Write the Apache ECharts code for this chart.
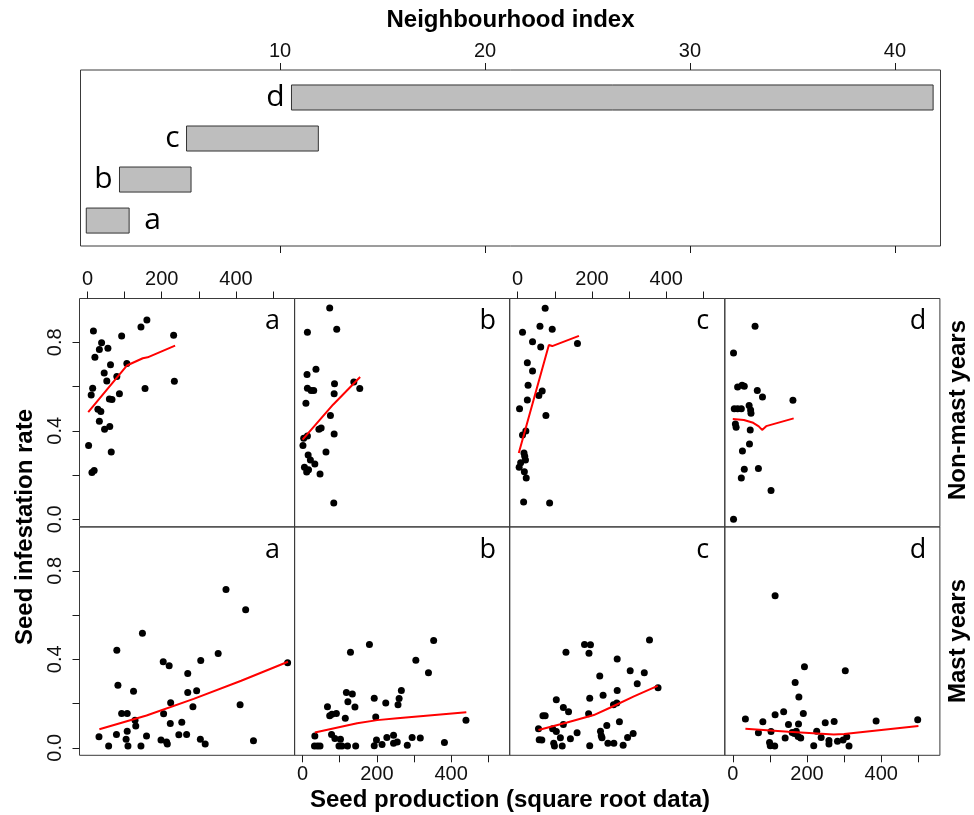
<!DOCTYPE html>
<html><head><meta charset="utf-8">
<script src="https://cdn.jsdelivr.net/npm/echarts@6/dist/echarts.min.js"></script>
<style>html,body{margin:0;padding:0;background:#fff}#c{width:974px;height:815px}</style>
</head><body><div id="c"></div>
<script>
// ---------- data ----------
const barNames = ['a', 'b', 'c', 'd'];
const barStart = [0.55, 2.17, 5.44, 10.56];
const barEnd = [2.64, 5.66, 11.87, 41.86];
const barPos = [1, 2, 3, 4];
const nbTicks = [10, 20, 30, 40];

const seedTicks = [0, 100, 200, 300, 400, 500];
const seedLabels = [0, 200, 400];
const rateTicks = [0, 0.2, 0.4, 0.6, 0.8];
const rateLabels = [0, 0.4, 0.8];
const panelLetters = ['a', 'b', 'c', 'd'];
const rowLabels = ['Non-mast years', 'Mast years'];

const nonMastA = [[16,0.851],[38,0.798],[32,0.767],[55,0.773],[20,0.732],[92,0.829],[144,0.869],[160,0.901],[232,0.832],[62,0.698],[106,0.704],[45,0.661],[79,0.645],[52,0.625],[14,0.592],[10,0.562],[155,0.591],[234,0.624],[86,0.568],[59,0.544],[66,0.541],[28,0.497],[36,0.487],[32,0.443],[46,0.407],[60,0.419],[3,0.333],[64,0.304],[12,0.212],[18,0.220]];
const fitNonMastA = [[2,0.484],[106,0.695],[149,0.728],[162,0.732],[236,0.785]];

const nonMastB = [[73,0.955],[13,0.845],[92,0.859],[36,0.678],[12,0.655],[13,0.592],[23,0.582],[30,0.582],[86,0.613],[85,0.568],[138,0.621],[154,0.591],[9,0.524],[75,0.469],[44,0.407],[50,0.413],[13,0.377],[85,0.386],[3,0.366],[1,0.333],[15,0.291],[21,0.268],[33,0.250],[5,0.235],[16,0.224],[11,0.214],[63,0.304],[47,0.205],[84,0.074]];
const fitNonMastB = [[0,0.360],[82,0.518],[155,0.643]];

const nonMastC = [[74,0.954],[60,0.872],[93,0.859],[13,0.845],[40,0.803],[62,0.779],[161,0.795],[26,0.708],[40,0.670],[28,0.606],[66,0.580],[57,0.559],[26,0.539],[5,0.500],[76,0.469],[22,0.399],[13,0.381],[17,0.300],[19,0.285],[21,0.268],[8,0.256],[4,0.235],[18,0.215],[23,0.187],[16,0.078],[86,0.074]];
const fitNonMastC = [[3,0.300],[84,0.788],[93,0.783],[165,0.829]];

const nonMastD = [[60,0.872],[2,0.752],[13,0.598],[25,0.606],[31,0.601],[66,0.582],[80,0.553],[162,0.538],[4,0.500],[13,0.500],[23,0.500],[44,0.514],[48,0.494],[49,0.479],[7,0.431],[9,0.416],[47,0.404],[45,0.340],[26,0.309],[31,0.226],[69,0.229],[23,0.187],[103,0.130],[2,0.000]];
const fitNonMastD = [[0,0.453],[30,0.449],[55,0.436],[70,0.420],[79,0.404],[90,0.421],[164,0.456]];

const mastA = [[31,0.050],[57,0.008],[78,0.060],[79,0.441],[82,0.283],[92,0.155],[107,0.155],[104,0.038],[107,0.075],[109,0.008],[124,0.256],[128,0.125],[130,0.099],[144,0.008],[148,0.518],[159,0.053],[198,0.035],[204,0.389],[213,0.026],[215,0.017],[220,0.371],[224,0.203],[205,0.154],[223,0.110],[246,0.059],[254,0.115],[267,0.060],[270,0.336],[270,0.250],[284,0.185],[294,0.258],[305,0.395],[304,0.038],[317,0.017],[352,0.426],[373,0.716],[411,0.194],[426,0.624],[447,0.032],[539,0.384]];
const fitMastA = [[32,0.084],[159,0.146],[286,0.221],[414,0.303],[540,0.389]];

const mastB = [[33,0.053],[32,0.008],[40,0.008],[47,0.008],[67,0.185],[73,0.145],[79,0.152],[91,0.155],[78,0.060],[87,0.042],[102,0.038],[98,0.008],[106,0.008],[121,0.008],[115,0.134],[118,0.250],[134,0.243],[122,0.208],[141,0.184],[129,0.432],[143,0.008],[180,0.467],[193,0.224],[197,0.139],[193,0.009],[199,0.035],[214,0.015],[224,0.202],[227,0.047],[245,0.057],[245,0.020],[255,0.026],[257,0.194],[260,0.223],[266,0.259],[282,0.011],[295,0.047],[305,0.396],[317,0.044],[339,0.339],[353,0.485],[382,0.024],[440,0.124]];
const fitMastB = [[33,0.069],[147,0.111],[201,0.125],[255,0.133],[441,0.161]];

const mastC = [[56,0.086],[58,0.036],[65,0.035],[68,0.145],[74,0.145],[97,0.020],[99,0.008],[94,0.086],[104,0.074],[104,0.217],[115,0.045],[120,0.008],[123,0.182],[123,0.105],[130,0.432],[137,0.163],[142,0.041],[160,0.068],[180,0.467],[196,0.466],[192,0.427],[191,0.154],[194,0.224],[194,0.009],[221,0.325],[223,0.075],[225,0.054],[227,0.045],[230,0.237],[240,0.101],[243,0.020],[259,0.020],[258,0.194],[267,0.202],[268,0.259],[268,0.401],[274,0.118],[284,0.011],[296,0.047],[311,0.065],[303,0.348],[322,0.289],[341,0.339],[355,0.487],[378,0.271]];
const fitMastC = [[56,0.080],[133,0.114],[205,0.148],[250,0.182],[313,0.232],[377,0.280]];

const mastD = [[34,0.130],[69,0.068],[81,0.118],[99,0.024],[101,0.009],[113,0.008],[103,0.074],[114,0.149],[114,0.687],[137,0.163],[141,0.044],[150,0.105],[160,0.069],[166,0.065],[171,0.075],[168,0.295],[177,0.108],[178,0.229],[176,0.051],[183,0.044],[190,0.155],[193,0.366],[218,0.009],[226,0.075],[238,0.047],[249,0.113],[259,0.033],[259,0.017],[273,0.119],[282,0.029],[297,0.035],[303,0.348],[307,0.050],[313,0.008],[386,0.121],[498,0.127]];
const fitMastD = [[34,0.086],[150,0.072],[272,0.060],[300,0.062],[500,0.098]];

const panelPoints = [nonMastA, nonMastB, nonMastC, nonMastD, mastA, mastB, mastC, mastD];
const panelFits = [fitNonMastA, fitNonMastB, fitNonMastC, fitNonMastD, fitMastA, fitMastB, fitMastC, fitMastD];

// ---------- layout ----------
const TICK = '#1a1a1a', BORDER = '#3a3a3a';
const FONT = 'Liberation Sans, Arial, sans-serif';
const LETTER_FONT = 'Open Sans, Noto Sans, sans-serif';
const topBox = {left: 80.5, top: 70, width: 860, height: 176};
const pLeft = [79.5, 294.6, 509.7, 724.8], pW = 215.1;
const pTop = [298.5, 527], pH = 228.3;

const chart = echarts.init(document.getElementById('c'), null, {renderer: 'canvas'});

const grids = [Object.assign({show: true, borderColor: BORDER, borderWidth: 1}, topBox)];
const xAxes = [
  {gridIndex: 0, type: 'value', position: 'top', min: 0.268, max: 42.22,
   axisLine: {show: false, onZero: false}, splitLine: {show: false},
   axisTick: {show: true, length: 7, lineStyle: {color: TICK}, customValues: nbTicks},
   axisLabel: {show: true, customValues: nbTicks, fontSize: 20, fontFamily: FONT, color: '#111', margin: 9}},
  {gridIndex: 0, type: 'value', position: 'bottom', min: 0.268, max: 42.22,
   axisLine: {show: false, onZero: false}, splitLine: {show: false},
   axisTick: {show: true, length: 7, lineStyle: {color: TICK}, customValues: nbTicks},
   axisLabel: {show: false}}
];
const yAxes = [{gridIndex: 0, type: 'value', min: 0.38, max: 4.67, show: false}];
const series = [{
  type: 'custom', xAxisIndex: 0, yAxisIndex: 0,
  data: barNames.map((n, i) => [barStart[i], barEnd[i], barPos[i]]),
  renderItem: function (params, api) {
    const s = api.value(0), e = api.value(1), p = api.value(2);
    const p0 = api.coord([s, p]), p1 = api.coord([e, p]);
    const h = api.size([0, 0.61])[1];
    const i = params.dataIndex;
    const left = i !== 0;
    return {type: 'group', children: [
      {type: 'rect', shape: {x: p0[0], y: p0[1] - h / 2, width: p1[0] - p0[0], height: h},
       style: {fill: '#bebebe', stroke: '#333', lineWidth: 1}},
      {type: 'text', style: {text: barNames[i], x: left ? p0[0] - 7 : p1[0] + 15, y: p0[1],
        align: left ? 'right' : 'left', verticalAlign: 'middle',
        font: '30px ' + LETTER_FONT, fill: '#000'}}
    ]};
  }
}];

const graphics = [];
for (let k = 0; k < 8; k++) {
  const r = Math.floor(k / 4), c = k % 4;
  grids.push({left: pLeft[c], top: pTop[r], width: pW, height: pH, show: true,
              borderColor: BORDER, borderWidth: 1});
  const showX = (r === 0 && (c === 0 || c === 2)) || (r === 1 && (c === 1 || c === 3));
  xAxes.push({gridIndex: k + 1, type: 'value', min: -21.5, max: 557.8,
    position: r === 0 ? 'top' : 'bottom', show: showX,
    axisLine: {show: false, onZero: false}, splitLine: {show: false},
    axisTick: {show: true, length: 7, lineStyle: {color: TICK}, customValues: seedTicks},
    axisLabel: {show: true, customValues: seedLabels, fontSize: 20, fontFamily: FONT, color: '#111', margin: 9}});
  yAxes.push({gridIndex: k + 1, type: 'value', min: -0.034, max: 0.998, show: c === 0,
    axisLine: {show: false, onZero: false}, splitLine: {show: false},
    axisTick: {show: true, length: 7, lineStyle: {color: TICK}, customValues: rateTicks},
    axisLabel: {show: true, customValues: rateLabels, rotate: 90, fontSize: 20, fontFamily: FONT,
      color: '#111', margin: 14, formatter: v => Number(v).toFixed(1)}});
  series.push({type: 'scatter', xAxisIndex: k + 2, yAxisIndex: k + 1, data: panelPoints[k],
    symbolSize: 7, itemStyle: {color: '#000', opacity: 1}, z: 3});
  series.push({type: 'line', xAxisIndex: k + 2, yAxisIndex: k + 1, data: panelFits[k],
    showSymbol: false, lineStyle: {color: '#ff0000', width: 2}, z: 4});
  graphics.push({type: 'text', x: pLeft[c] + pW - 22, y: pTop[r] + 23,
    style: {text: panelLetters[c], align: 'center', verticalAlign: 'middle',
      font: '27px ' + LETTER_FONT, fill: '#000'}});
}

graphics.push({type: 'text', x: 510.5, y: 20,
  style: {text: 'Neighbourhood index', align: 'center', verticalAlign: 'middle', font: 'bold 24px ' + FONT, fill: '#000'}});
graphics.push({type: 'text', x: 510, y: 800,
  style: {text: 'Seed production (square root data)', align: 'center', verticalAlign: 'middle', font: 'bold 24px ' + FONT, fill: '#000'}});
graphics.push({type: 'text', x: 25, y: 527, rotation: Math.PI / 2,
  style: {text: 'Seed infestation rate', align: 'center', verticalAlign: 'middle', font: 'bold 24px ' + FONT, fill: '#000'}});
graphics.push({type: 'text', x: 958, y: 410, rotation: Math.PI / 2,
  style: {text: rowLabels[0], align: 'center', verticalAlign: 'middle', font: 'bold 24px ' + FONT, fill: '#000'}});
graphics.push({type: 'text', x: 958, y: 641, rotation: Math.PI / 2,
  style: {text: rowLabels[1], align: 'center', verticalAlign: 'middle', font: 'bold 24px ' + FONT, fill: '#000'}});

chart.setOption({
  animation: false,
  backgroundColor: '#fff',
  grid: grids, xAxis: xAxes, yAxis: yAxes, series: series, graphic: graphics
});
</script></body></html>
